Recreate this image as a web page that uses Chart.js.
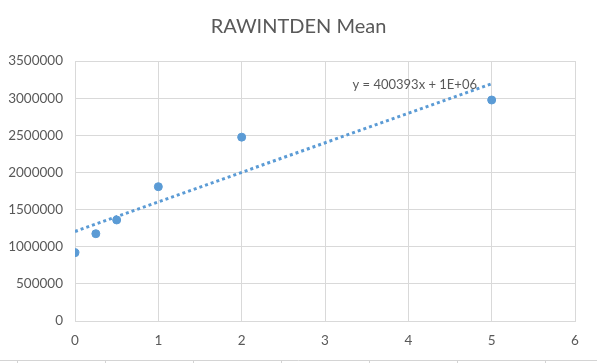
<!DOCTYPE html>
<html>
<head>
<meta charset="utf-8">
<script src="https://cdn.jsdelivr.net/npm/chart.js@4/dist/chart.umd.min.js"></script>
<style>
  html, body { margin: 0; padding: 0; background: #fff; }
  #wrap { width: 597px; height: 363px; position: relative; }
</style>
</head>
<body>
<div id="wrap"><canvas id="meanChart" width="597" height="363"></canvas></div>
<script>
// data
const concentrations = [0, 0.25, 0.5, 1, 2, 5];
const rawIntDenMean = [920000, 1175000, 1360000, 1808000, 2475000, 2975000];
const xTicks = [0, 1, 2, 3, 4, 5, 6];
const yTicks = [0, 500000, 1000000, 1500000, 2000000, 2500000, 3000000, 3500000];
const trendLabel = 'y = 400393x + 1E+06';

// least squares line over the points, drawn across the data range
function linearFit(xs, ys) {
  const n = xs.length;
  const mx = xs.reduce((a, b) => a + b, 0) / n;
  const my = ys.reduce((a, b) => a + b, 0) / n;
  let sxy = 0, sxx = 0;
  xs.forEach((x, i) => { sxy += (x - mx) * (ys[i] - my); sxx += (x - mx) * (x - mx); });
  const slope = sxy / sxx;
  return { slope, intercept: my - slope * mx };
}
const fit = linearFit(concentrations, rawIntDenMean);
const xMin = Math.min(...concentrations), xMax = Math.max(...concentrations);
const trendPoints = [
  { x: xMin, y: fit.intercept + fit.slope * xMin },
  { x: xMax, y: fit.intercept + fit.slope * xMax }
];

const FONT = 'Lato, "Open Sans", sans-serif';
const GREY = '#595959';
const GRID = '#D9D9D9';

// trendline equation, placed in data coordinates
const equationLabel = {
  id: 'equationLabel',
  afterDatasetsDraw(chart) {
    const { ctx, scales: { x, y } } = chart;
    ctx.save();
    ctx.font = '13px ' + FONT;
    ctx.fillStyle = GREY;
    ctx.textBaseline = 'middle';
    ctx.textAlign = 'left';
    ctx.fillText(trendLabel, x.getPixelForValue(3.33), y.getPixelForValue(3180000));
    ctx.restore();
  }
};

// spreadsheet cell borders peeking in under the chart
const sheetCells = {
  id: 'sheetCells',
  afterDraw(chart) {
    const ctx = chart.ctx;
    ctx.save();
    ctx.strokeStyle = '#D4D4D4';
    ctx.lineWidth = 1;
    ctx.beginPath();
    ctx.moveTo(0, 360.5);
    ctx.lineTo(597, 360.5);
    for (let cx = 17; cx < 597; cx += 88) {
      ctx.moveTo(cx + 0.5, 360.5);
      ctx.lineTo(cx + 0.5, 363);
    }
    ctx.stroke();
    ctx.restore();
  }
};

new Chart(document.getElementById('meanChart'), {
  type: 'scatter',
  data: {
    datasets: [
      {
        label: 'RAWINTDEN Mean',
        data: concentrations.map((c, i) => ({ x: c, y: rawIntDenMean[i] })),
        backgroundColor: '#5B9BD5',
        borderColor: '#5B9BD5',
        pointRadius: 4,
        pointHoverRadius: 4,
        order: 1
      },
      {
        label: 'Linear (RAWINTDEN Mean)',
        type: 'line',
        data: trendPoints,
        borderColor: '#5B9BD5',
        borderWidth: 3,
        borderDash: [3, 3],
        pointRadius: 0,
        fill: false,
        order: 2
      }
    ]
  },
  options: {
    responsive: false,
    animation: false,
    layout: { padding: 0 },
    plugins: {
      legend: { display: false },
      tooltip: { enabled: false },
      title: {
        display: true,
        text: 'RAWINTDEN Mean',
        color: GREY,
        font: { family: FONT, size: 20, weight: 'normal' },
        padding: { top: 15, bottom: 22 }
      }
    },
    scales: {
      x: {
        type: 'linear',
        min: 0,
        max: 6,
        afterBuildTicks(axis) { axis.ticks = xTicks.map(v => ({ value: v })); },
        afterFit(axis) { axis.height = 42; },
        grid: { color: GRID, drawTicks: false },
        border: { color: GRID },
        ticks: { color: GREY, font: { family: FONT, size: 13.5 }, padding: 12 }
      },
      y: {
        min: 0,
        max: 3500000,
        afterBuildTicks(axis) { axis.ticks = yTicks.map(v => ({ value: v })); },
        afterFit(axis) { axis.width = 75; },
        grid: { color: GRID, drawTicks: false },
        border: { color: GRID },
        ticks: { color: GREY, font: { family: FONT, size: 13.5 }, padding: 12, callback: v => String(v) }
      },
      // empty right-hand axis, only to keep the right margin
      spacer: {
        type: 'linear',
        position: 'right',
        min: 0,
        max: 1,
        afterFit(axis) { axis.width = 22; },
        grid: { display: false, drawTicks: false },
        border: { display: false },
        ticks: { display: false }
      }
    }
  },
  plugins: [equationLabel, sheetCells]
});
</script>
</body>
</html>
